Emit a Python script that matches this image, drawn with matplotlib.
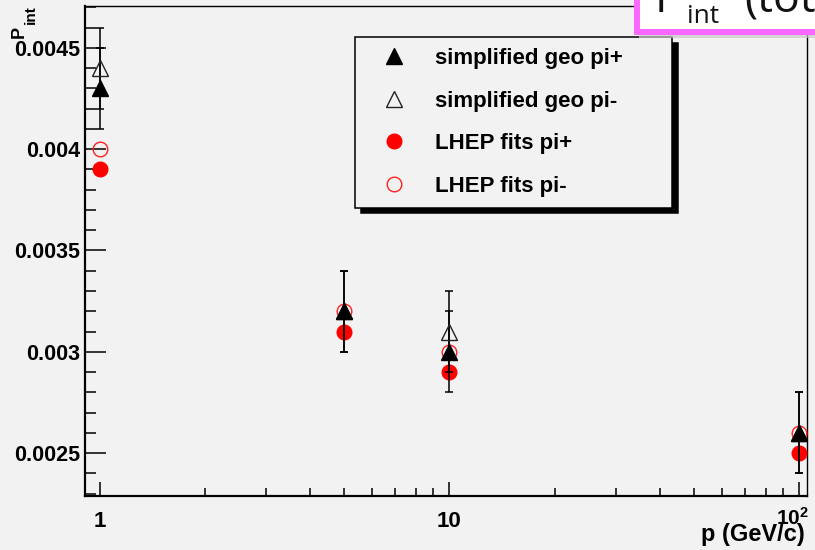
import matplotlib
matplotlib.use("Agg")
import matplotlib.pyplot as plt
from matplotlib.patches import Rectangle
from matplotlib.ticker import FixedLocator, FixedFormatter, NullFormatter

# ---- data ----
p_values = [1, 5, 10, 100]
geo_pip = [0.0043, 0.0032, 0.0030, 0.0026]
geo_pip_err = [0.0002, 0.0002, 0.0002, 0.0002]
geo_pim = [0.0044, 0.0032, 0.0031, 0.0026]
geo_pim_err = [0.0002, 0.0002, 0.0002, 0.0002]
lhep_pip = [0.0039, 0.0031, 0.0029, 0.0025]
lhep_pim = [0.0040, 0.0032, 0.0030, 0.0026]

labels = ["simplified geo pi+", "simplified geo pi-", "LHEP fits pi+", "LHEP fits pi-"]
y_ticks = [0.0025, 0.003, 0.0035, 0.004, 0.0045]
y_tick_labels = ["0.0025", "0.003", "0.0035", "0.004", "0.0045"]
x_ticks = [1, 10, 100]
x_tick_labels = ["1", "10", r"$\mathbf{10}^{\mathrm{2}}$"]

plt.rcParams['font.family'] = ['Liberation Sans', 'DejaVu Sans']
plt.rcParams['font.weight'] = 'bold'
plt.rcParams['mathtext.fontset'] = 'custom'
plt.rcParams['mathtext.rm'] = 'Liberation Sans'
plt.rcParams['mathtext.bf'] = 'Liberation Sans:bold'
plt.rcParams['mathtext.it'] = 'Liberation Sans:italic'

BG = '#f2f2f2'
W, H = 815, 550
fig = plt.figure(figsize=(W / 100, H / 100), dpi=100, facecolor=BG)
ax = fig.add_axes([85 / W, 1 - 496 / H, (807 - 85) / W, (496 - 6) / H])
ax.set_facecolor(BG)

ax.set_xscale('log')
ax.set_xlim(0.909, 105.1)
ax.set_ylim(0.002288, 0.004707)

# LHEP fits (drawn first)
ax.plot(p_values, lhep_pip, ls='none', marker='o', ms=10.5, mfc='#ff0000', mec='#ff0000',
        mew=1, label=labels[2], zorder=3)
ax.plot(p_values, lhep_pim, ls='none', marker='o', ms=10.5, mfc='none', mec='#ff2020',
        mew=1, label=labels[3], zorder=3)

# error bars for geo
ax.errorbar(p_values, geo_pim, yerr=geo_pim_err, fmt='none', ecolor='black', elinewidth=1.1,
            capsize=2.6, capthick=1.1, zorder=4)
ax.errorbar(p_values, geo_pip, yerr=geo_pip_err, fmt='none', ecolor='black', elinewidth=1.1,
            capsize=2.6, capthick=1.1, zorder=4)
ax.plot(p_values, geo_pim, ls='none', marker='^', ms=11.5, mfc='none', mec='#222222', mew=1,
        label=labels[1], zorder=5)
ax.plot(p_values, geo_pip, ls='none', marker='^', ms=11.5, mfc='black', mec='black', mew=1,
        label=labels[0], zorder=5)

# ticks
ax.yaxis.set_major_locator(FixedLocator(y_ticks))
ax.yaxis.set_major_formatter(FixedFormatter(y_tick_labels))
ax.yaxis.set_minor_locator(FixedLocator([0.0023 + 0.0001 * i for i in range(25)]))
ax.xaxis.set_major_locator(FixedLocator(x_ticks))
ax.xaxis.set_major_formatter(FixedFormatter(x_tick_labels[:-1] + [""]))
ax.xaxis.set_minor_locator(FixedLocator([m * d for d in (1, 10) for m in range(2, 10)]))
ax.xaxis.set_minor_formatter(NullFormatter())

ax.tick_params(axis='y', which='major', direction='in', length=15, width=1.1, pad=3.6,
               labelsize=15.5, right=False)
ax.tick_params(axis='y', which='minor', direction='in', length=8, width=1.1, right=False)
ax.tick_params(axis='x', which='major', direction='in', length=10, width=1.1, pad=11,
               labelsize=16, top=False)
ax.tick_params(axis='x', which='minor', direction='in', length=5.8, width=1.1, top=False)
for lab in ax.get_xticklabels() + ax.get_yticklabels():
    lab.set_fontweight('bold')

# last x tick label (10^2), drawn a little left of its tick as in the reference
ax.annotate(x_tick_labels[-1], xy=(x_ticks[-1], 0), xycoords=('data', 'axes fraction'),
            xytext=(-5, -8), textcoords='offset points', ha='center', va='top',
            fontsize=15, fontweight='bold')

ax.spines['left'].set_linewidth(1.6)
ax.spines['bottom'].set_linewidth(1.6)
ax.spines['top'].set_linewidth(1.0)
ax.spines['right'].set_linewidth(1.0)

# legend
handles, labs = ax.get_legend_handles_labels()
order = [labs.index(l) for l in labels]
aw, ah = 807 - 85, 496 - 6
leg = ax.legend([handles[i] for i in order], [labs[i] for i in order],
                loc='upper left',
                bbox_to_anchor=((355 - 85) / aw, (496 - 37) / ah, (672 - 355) / aw, 0.0),
                mode='expand', prop={'weight': 'bold', 'size': 16},
                frameon=True, fancybox=False, edgecolor='black', facecolor=BG, framealpha=1,
                borderpad=0.5, labelspacing=0.97, handlelength=2.55, handletextpad=0.55,
                borderaxespad=0, numpoints=1,
                shadow={'ox': 4, 'oy': -4, 'color': 'black', 'alpha': 1})
leg.get_frame().set_linewidth(1.1)
leg.set_zorder(10)

# axis titles
fig.text(805 / W, 1 - 535 / H, 'p (GeV/c)', ha='right', va='center', fontsize=17,
         fontweight='bold')
fig.text(19.5 / W, 1 - 38 / H, 'P', ha='center', va='bottom', rotation=90, fontsize=13,
         fontweight='bold')
fig.text(30.5 / W, 1 - 24 / H, 'int', ha='center', va='bottom', rotation=90, fontsize=11,
         fontweight='bold')

# pink overlay box (slide title fragment)
shadow = Rectangle((639 / W, 1 - 38 / H), 400 / W, 100 / H, transform=fig.transFigure,
                   facecolor='#c8c8c8', edgecolor='none', zorder=20, alpha=0.7)
fig.patches.append(shadow)
box = Rectangle((636.5 / W, 1 - 32 / H), 400 / W, 100 / H, transform=fig.transFigure,
                facecolor='white', edgecolor='#ff66ff', linewidth=4.3, zorder=21)
fig.patches.append(box)
fig.text(655 / W, 1 - 12.5 / H, 'P', fontsize=32, fontfamily='Open Sans', fontweight='normal',
         ha='left', va='baseline', zorder=22, color='#111111')
fig.text(687 / W, 1 - 23 / H, 'int', fontsize=19, fontfamily='Open Sans', fontweight='normal',
         ha='left', va='baseline', zorder=22, color='#111111')
fig.text(744 / W, 1 - 12.5 / H, '(total', fontsize=32, fontfamily='Open Sans',
         fontweight='normal', ha='left', va='baseline', zorder=22, color='#111111')

fig.savefig('out.png', dpi=100, facecolor=BG)
